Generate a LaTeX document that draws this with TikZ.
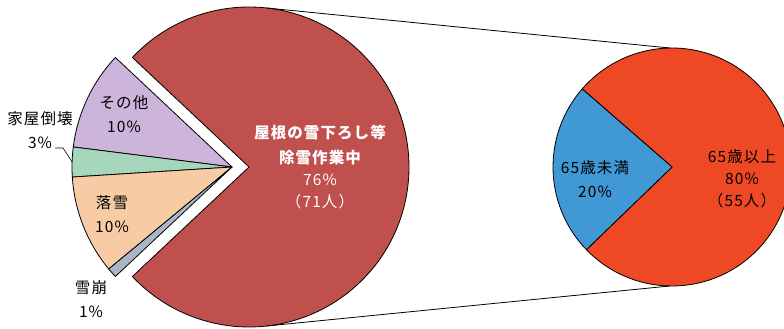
\documentclass[tikz,border=0pt]{standalone}
\usepackage{fontspec}
\setmainfont{Noto Sans CJK JP}[LetterSpace=7]

\definecolor{roofred}{RGB}{192,80,77}
\definecolor{otherlil}{RGB}{204,180,218}
\definecolor{housegrn}{RGB}{166,214,188}
\definecolor{fallpch}{RGB}{247,204,165}
\definecolor{avalgry}{RGB}{168,182,198}
\definecolor{oldorg}{RGB}{239,72,36}
\definecolor{youngblu}{RGB}{64,152,212}

\begin{document}
\begin{tikzpicture}[x=1pt,y=1pt,
    slice/.style={draw=black,line width=0.8pt,line join=round},
    lbl/.style={align=center,inner sep=0pt,font=\fontsize{15.5}{24}\selectfont},
  ]
  \clip (0,0) rectangle (784,329);
  \coordinate (c) at (232,162);
  \coordinate (r) at (249,162);
  \coordinate (s) at (672,162);

  % left pie, exploded slice
  \filldraw[slice,fill=roofred] (r) -- ++(136.8:160) arc[start angle=136.8,end angle=-136.8,radius=160] -- cycle;
  \filldraw[slice,fill=otherlil] (c) -- ++(136.8:160) arc[start angle=136.8,end angle=172.8,radius=160] -- cycle;
  \filldraw[slice,fill=housegrn] (c) -- ++(172.8:160) arc[start angle=172.8,end angle=183.6,radius=160] -- cycle;
  \filldraw[slice,fill=fallpch] (c) -- ++(183.6:160) arc[start angle=183.6,end angle=219.6,radius=160] -- cycle;
  \filldraw[slice,fill=avalgry] (c) -- ++(219.6:160) arc[start angle=219.6,end angle=223.2,radius=160] -- cycle;

  % right pie
  \filldraw[slice,fill=oldorg] (s) -- ++(-136:119) arc[start angle=-136,end angle=139,radius=119] -- cycle;
  \filldraw[slice,fill=youngblu] (s) -- ++(139:119) arc[start angle=139,end angle=224,radius=119] -- cycle;

  % connectors
  \path (r) ++(83.5:160) coordinate (rtop);
  \path (r) ++(-83.5:160) coordinate (rbot);
  \path (s) ++(91:119) coordinate (stop);
  \path (s) ++(-91:119) coordinate (sbot);
  \draw[line width=0.8pt] (rtop) -- (stop);
  \draw[line width=0.8pt] (rbot) -- (sbot);

  % labels
  \node[lbl,text=white,font=\fontsize{15.5}{22}\selectfont] (roof) at (320,161.5)
    {\bfseries 屋根の雪下ろし等\\[3pt]\bfseries 除雪作業中\\76\%\\（71人）};
  \node[lbl] (other) at (124,214.5) {その他\\10\%};
  \node[lbl] (house) at (40,199) {家屋倒壊\\3\%};
  \node[lbl] (fall) at (112,114.5) {落雪\\10\%};
  \node[lbl] (aval) at (91,29.5) {雪崩\\1\%};
  \node[lbl] (young) at (595,150) {65歳未満\\20\%};
  \node[lbl,font=\fontsize{15.5}{22}\selectfont] (old) at (742,150.5) {65歳以上\\80\%\\（55人）};

  % leader
  \coordinate (h1) at (55,181);
  \coordinate (h2) at (63,181);
  \path (c) ++(178.2:160) coordinate (h3);
  \draw[line width=0.6pt] (h1) -- (h2) -- (h3);
\end{tikzpicture}
\end{document}
